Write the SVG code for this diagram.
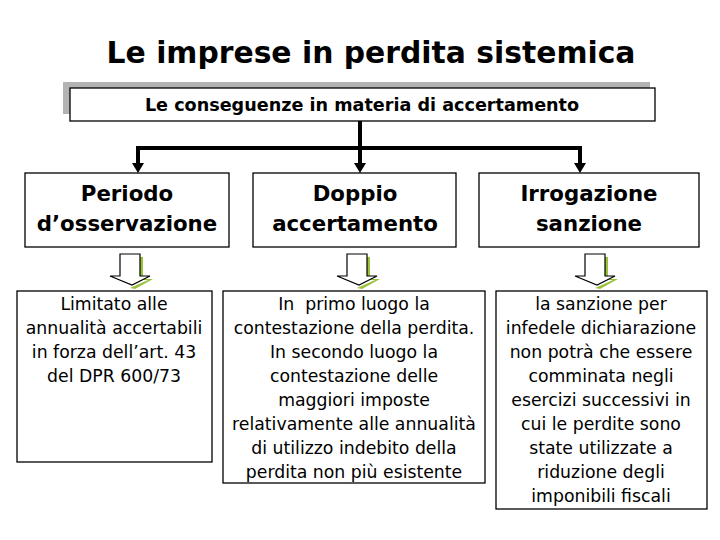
<svg xmlns="http://www.w3.org/2000/svg" width="720" height="540" viewBox="0 0 720 540">
<defs>
<style>
.t{font-family:"DejaVu Sans","Liberation Sans",sans-serif;fill:#000;text-anchor:middle}
.title{font-size:29.8px;font-weight:bold}
.hdr{font-size:17.6px;font-weight:bold}
.h{font-size:21.3px;font-weight:bold}
.b{font-size:17.3px}
.box{fill:#fff;stroke:#000;stroke-width:1.3}
.conn{fill:none;stroke:#000;stroke-width:4}
.ha{fill:#fff;stroke:#000;stroke-width:1.2}
.hs{fill:#99c23a}
</style>
<g id="hollow">
<path class="hs" d="M10,3 L13,3 L13,25 L23,25 L5,35 L0,34 L18,26 L10,26 Z"/>
<path class="ha" d="M-10,0 L10,0 L10,22 L20,22 L2,31 L-20,22 L-10,22 Z"/>
</g>
</defs>
<rect width="720" height="540" fill="#fff"/>
<text class="t title" x="371" y="63">Le imprese in perdita sistemica</text>
<g id="header">
<rect x="63" y="82" width="587" height="32" fill="#b3b3b3"/>
<rect class="box" x="70" y="88" width="585" height="33"/>
<text class="t hdr" x="362" y="111">Le conseguenze in materia di accertamento</text>
</g>
<g id="connectors">
<path class="conn" d="M360,121 V148"/>
<path class="conn" d="M138,148 H580"/>
<path class="conn" d="M138,146 V164"/>
<path class="conn" d="M360,148 V164"/>
<path class="conn" d="M580,146 V164"/>
<path d="M132,163 L144,163 L138,173 Z"/>
<path d="M354,163 L366,163 L360,173 Z"/>
<path d="M574,163 L586,163 L580,173 Z"/>
<use href="#hollow" x="130" y="254"/>
<use href="#hollow" x="357" y="254"/>
<use href="#hollow" x="595" y="254"/>
</g>
<g id="n1">
<rect class="box" x="25" y="173" width="204" height="74"/>
<text class="t h" x="127" y="201">Periodo</text>
<text class="t h" x="127" y="231">d’osservazione</text>
</g>
<g id="n2">
<rect class="box" x="253" y="173" width="203" height="74"/>
<text class="t h" x="355" y="201">Doppio</text>
<text class="t h" x="355" y="231">accertamento</text>
</g>
<g id="n3">
<rect class="box" x="479" y="173" width="220" height="74"/>
<text class="t h" x="589" y="201">Irrogazione</text>
<text class="t h" x="589" y="231">sanzione</text>
</g>
<g id="n4">
<rect class="box" x="17" y="291" width="195" height="171"/>
<text class="t b" x="114" y="310">Limitato alle</text>
<text class="t b" x="114" y="334">annualità accertabili</text>
<text class="t b" x="114" y="358">in forza dell’art. 43</text>
<text class="t b" x="114" y="382">del DPR 600/73</text>
</g>
<g id="n5">
<rect class="box" x="223" y="291" width="262" height="192"/>
<text class="t b" x="354" y="310" xml:space="preserve">In  primo luogo la</text>
<text class="t b" x="354" y="334">contestazione della perdita.</text>
<text class="t b" x="354" y="358">In secondo luogo la</text>
<text class="t b" x="354" y="382">contestazione delle</text>
<text class="t b" x="354" y="406">maggiori imposte</text>
<text class="t b" x="354" y="430">relativamente alle annualità</text>
<text class="t b" x="354" y="454">di utilizzo indebito della</text>
<text class="t b" x="354" y="478">perdita non più esistente</text>
</g>
<g id="n6">
<rect class="box" x="496" y="291" width="211" height="218"/>
<text class="t b" x="601" y="310">la sanzione per</text>
<text class="t b" x="601" y="334">infedele dichiarazione</text>
<text class="t b" x="601" y="358">non potrà che essere</text>
<text class="t b" x="601" y="382">comminata negli</text>
<text class="t b" x="601" y="406">esercizi successivi in</text>
<text class="t b" x="601" y="430">cui le perdite sono</text>
<text class="t b" x="601" y="454">state utilizzate a</text>
<text class="t b" x="601" y="478">riduzione degli</text>
<text class="t b" x="601" y="502">imponibili fiscali</text>
</g>
</svg>
